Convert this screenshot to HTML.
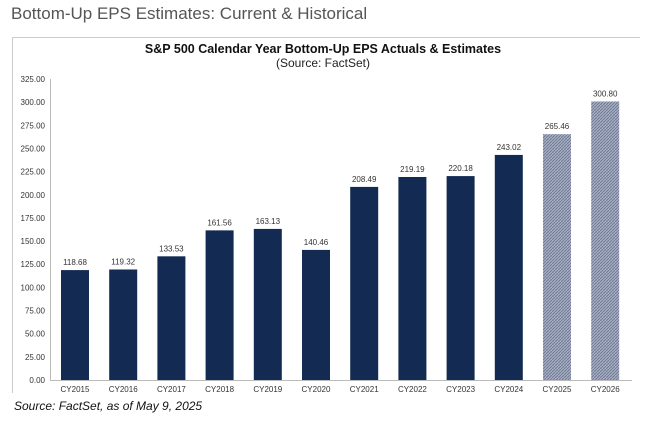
<!DOCTYPE html>
<html><head><meta charset="utf-8"><style>
body{margin:0;background:#fff;width:647px;height:423px;overflow:hidden;font-family:"Liberation Sans",Arial,sans-serif}
</style></head><body>
<svg width="647" height="423">
<defs>
<pattern id="hatch" width="3" height="3" patternUnits="userSpaceOnUse">
<rect width="3" height="3" fill="#a7aec0"/>
<path d="M0,3 L3,0" stroke="#6f7a95" stroke-width="1"/>
</pattern>
</defs>
<text x="11" y="19" font-size="17" fill="#555">Bottom-Up EPS Estimates: Current &amp; Historical</text>
<line x1="12" y1="37.5" x2="640" y2="37.5" stroke="#ccc"/>
<line x1="12.5" y1="37" x2="12.5" y2="393" stroke="#ccc"/>
<text x="323" y="53" font-size="12.5" font-weight="bold" text-anchor="middle" fill="#111">S&amp;P 500 Calendar Year Bottom-Up EPS Actuals &amp; Estimates</text>
<text x="323" y="67" font-size="12" text-anchor="middle" fill="#222">(Source: FactSet)</text>
<g id="plot"></g>
<text x="14" y="410" font-size="12" font-style="italic" fill="#111">Source: FactSet, as of May 9, 2025</text>
</svg>
<script>
const categories=["CY2015","CY2016","CY2017","CY2018","CY2019","CY2020","CY2021","CY2022","CY2023","CY2024","CY2025","CY2026"];
const values=[118.68,119.32,133.53,161.56,163.13,140.46,208.49,219.19,220.18,243.02,265.46,300.80];
const estimate=[false,false,false,false,false,false,false,false,false,false,true,true];
const yTicks=[0,25,50,75,100,125,150,175,200,225,250,275,300,325];
const ns="http://www.w3.org/2000/svg";
const g=document.getElementById("plot");
const y0=380,yTop=79,yMax=325,x0=75,step=48.2,bw=28;
const y=v=>y0-(v/yMax)*(y0-yTop);
const x=i=>x0+i*step;
function el(t,a){const e=document.createElementNS(ns,t);for(const k in a)e.setAttribute(k,a[k]);g.appendChild(e);return e;}
const ax=el("line",{x1:50.5,y1:yTop,x2:50.5,y2:y0,stroke:"#bbb"});


const bx=el("line",{x1:50,y1:y0+0.5,x2:632,y2:y0+0.5,stroke:"#bbb"});


yTicks.forEach(v=>{const t=el("text",{x:45,y:y(v)+3,"font-size":8,"text-anchor":"end",fill:"#333"});t.textContent=v.toFixed(2);

});
categories.forEach((c,i)=>{
const r=el("rect",{x:x(i)-bw/2,y:y(values[i]),width:bw,height:y0-y(values[i]),fill:estimate[i]?"url(#hatch)":"#132b52"});


const l=el("text",{x:x(i),y:y(values[i])-5,"font-size":8,"text-anchor":"middle",fill:"#333"});l.textContent=values[i].toFixed(2);


const t=el("text",{x:x(i),y:392,"font-size":8,"text-anchor":"middle",fill:"#333"});t.textContent=c;


});
</script>
</body></html>
